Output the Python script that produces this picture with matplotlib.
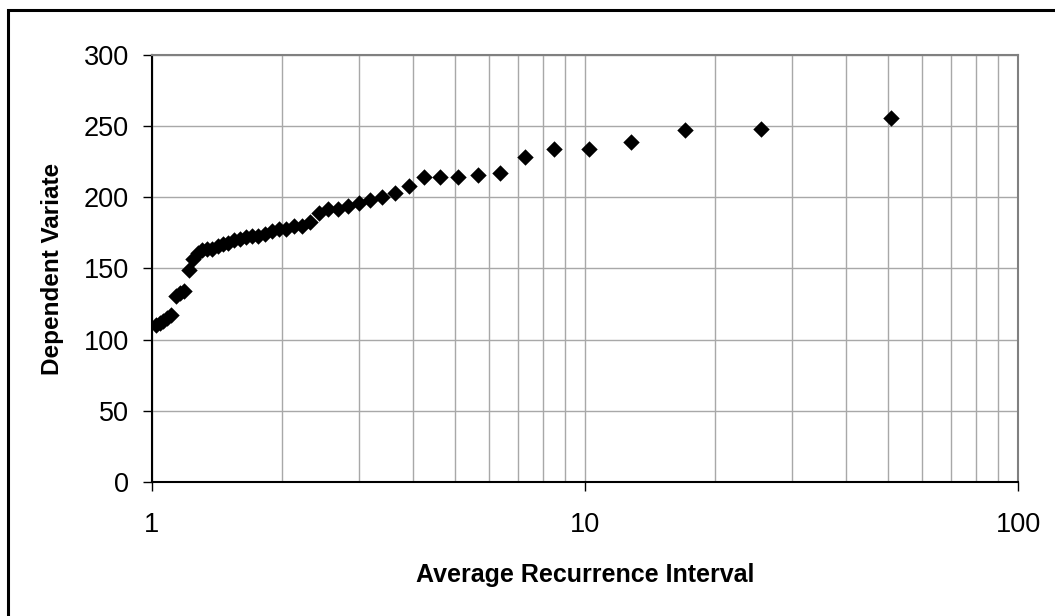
import numpy as np
import matplotlib.pyplot as plt
from matplotlib.patches import Rectangle
from matplotlib.ticker import LogLocator, FixedLocator, NullFormatter

plt.rcParams['font.family'] = ['Liberation Sans', 'DejaVu Sans']

# Average recurrence interval (years) and the ranked dependent variate
ari = [1.02, 1.0408, 1.0625, 1.0851, 1.1087, 1.1333, 1.1591, 1.186, 1.2143, 1.2439,
       1.275, 1.3077, 1.3421, 1.3784, 1.4167, 1.4571, 1.5, 1.5455, 1.5938, 1.6452,
       1.7, 1.7586, 1.8214, 1.8889, 1.9615, 2.04, 2.125, 2.2174, 2.3182, 2.4286,
       2.55, 2.6842, 2.8333, 3.0, 3.1875, 3.4, 3.6429, 3.9231, 4.25, 4.6364,
       5.1, 5.6667, 6.375, 7.2857, 8.5, 10.2, 12.75, 17.0, 25.5, 51.0]
variate = [110, 112, 113, 115, 117, 131, 133, 134, 149, 157,
           161, 163, 164, 164, 166, 167, 168, 170, 171, 172,
           173, 173, 174, 176, 178, 178, 180, 180, 183, 189,
           192, 192, 194, 196, 198, 200, 203, 208, 214, 214,
           214, 216, 217, 228, 234, 234, 239, 247, 248, 256]

x_ticks = [1, 10, 100]
x_tick_labels = ['1', '10', '100']
y_ticks = [0, 50, 100, 150, 200, 250, 300]

fig = plt.figure(figsize=(10.55, 6.16), dpi=100)
ax = fig.add_axes([152 / 1055, 134 / 616, 866 / 1055, 427 / 616])

ax.scatter(ari, variate, marker='D', s=70, color='black', linewidths=0, zorder=3)

ax.set_xscale('log')
ax.set_xlim(1, 100)
ax.set_ylim(0, 300)

ax.xaxis.set_major_locator(FixedLocator(x_ticks))
ax.set_xticklabels(x_tick_labels)
ax.xaxis.set_minor_locator(LogLocator(base=10, subs=np.arange(2, 10)))
ax.xaxis.set_minor_formatter(NullFormatter())
ax.set_yticks(y_ticks)

grid_col = '#a8a8a8'
ax.grid(True, which='major', axis='both', color=grid_col, linewidth=1.0)
ax.grid(True, which='minor', axis='x', color=grid_col, linewidth=1.0)
ax.set_axisbelow(True)

ax.tick_params(axis='both', which='major', direction='out', length=6.5, width=1,
               color='black', labelsize=19.5)
ax.tick_params(axis='x', which='major', pad=15)
ax.tick_params(axis='y', which='major', pad=10)
ax.tick_params(axis='x', which='minor', length=0)

for side in ['left', 'bottom']:
    ax.spines[side].set_color('black')
    ax.spines[side].set_linewidth(1.5)
for side in ['top', 'right']:
    ax.spines[side].set_color('#808080')
    ax.spines[side].set_linewidth(1.5)

ax.set_xlabel('Average Recurrence Interval', fontsize=18, fontweight='bold', labelpad=18)
ax.set_ylabel('Dependent Variate', fontsize=17.5, fontweight='bold', labelpad=14)

# outer chart-area border (right and bottom edges run off the picture)
fig.patches.append(Rectangle((8 / 1055, -0.1), 1.2, 0.1 + 606 / 616,
                             transform=fig.transFigure, fill=False,
                             edgecolor='black', linewidth=2.2))

fig.savefig('out.png', dpi=100)
